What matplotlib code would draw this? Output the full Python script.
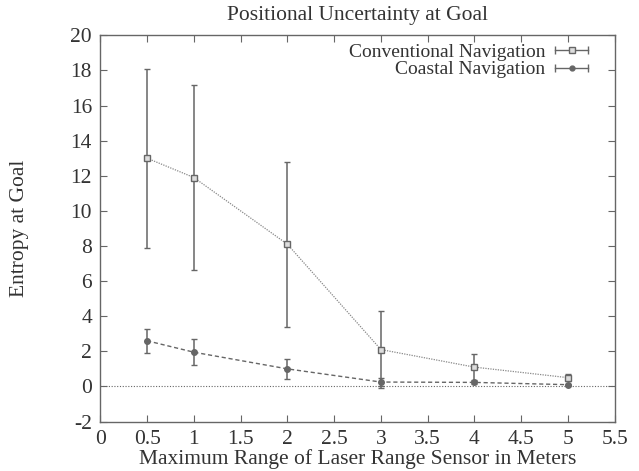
import matplotlib
matplotlib.use("Agg")
import matplotlib.pyplot as plt
from matplotlib.legend_handler import HandlerBase
from matplotlib.lines import Line2D

plt.rcParams["font.family"] = ["Liberation Serif", "DejaVu Serif"]
plt.rcParams["axes.unicode_minus"] = False

x = [0.5, 1, 2, 3, 4, 5]
conventional = [13.0, 11.9, 8.1, 2.1, 1.1, 0.5]
conventional_err = [5.1, 5.25, 4.7, 2.2, 0.75, 0.2]
coastal = [2.6, 1.95, 1.0, 0.25, 0.23, 0.1]
coastal_err = [0.7, 0.75, 0.55, 0.22, 0.1, 0.05]

ink = "#333333"
gray = "#666666"


class KeyHandler(HandlerBase):
    # gnuplot style key: |--marker--|
    def __init__(self, marker, mfc, ms):
        super().__init__()
        self.marker = marker
        self.mfc = mfc
        self.ms = ms

    def create_artists(self, legend, orig_handle, xdescent, ydescent,
                       width, height, fontsize, trans):
        y = height / 2 - ydescent
        x0, x1 = -xdescent, -xdescent + width
        line = Line2D([x0, x1], [y, y], color=gray, lw=1)
        caps = Line2D([x0, x1], [y, y], ls="none", marker="|", ms=6,
                      color=gray, mew=1)
        mk = Line2D([(x0 + x1) / 2], [y], ls="none", marker=self.marker,
                    ms=self.ms, mfc=self.mfc, mec=gray, mew=1)
        for a in (line, caps, mk):
            a.set_transform(trans)
        return [line, caps, mk]


fig = plt.figure(figsize=(6.39, 4.71), dpi=100)
ax = fig.add_axes([0.157, 0.105, 0.805, 0.82])

ax.axhline(0, color=gray, lw=0.8, ls=(0, (1, 1.5)))

ax.errorbar(x, conventional, yerr=conventional_err, color="#888888", lw=0.9,
            ls=(0, (1, 1)), marker="s", ms=5, mfc="#dddddd", mec=gray,
            mew=1, ecolor=gray, elinewidth=1.1, capsize=2.5)
ax.errorbar(x, coastal, yerr=coastal_err, color=gray, lw=1,
            ls=(0, (3, 2)), marker="o", ms=4, mfc=gray, mec=gray,
            ecolor=gray, elinewidth=1.1, capsize=2.5)

h1 = Line2D([], [])
h2 = Line2D([], [])
ax.legend([h1, h2], ["Conventional Navigation", "Coastal Navigation"],
          loc="upper right", bbox_to_anchor=(0.975, 1.015), frameon=False,
          markerfirst=False, handlelength=1.7, handletextpad=0.5,
          labelspacing=0.0, borderaxespad=0.3, fontsize=14, labelcolor=ink,
          handler_map={h1: KeyHandler("s", "#dddddd", 4.5),
                       h2: KeyHandler("o", gray, 3.5)})

ax.set_xlim(0, 5.5)
ax.set_ylim(-2, 20)
ax.set_xticks([0, 0.5, 1, 1.5, 2, 2.5, 3, 3.5, 4, 4.5, 5, 5.5])
ax.set_xticklabels(["0", "0.5", "1", "1.5", "2", "2.5", "3", "3.5",
                    "4", "4.5", "5", "5.5"])
ax.set_yticks(range(-2, 21, 2))
ax.tick_params(direction="in", top=True, right=True, length=5,
               color=gray, labelcolor=ink, labelsize=15.5)
ax.tick_params(axis="x", pad=6)
ax.tick_params(axis="y", pad=6)
for s in ax.spines.values():
    s.set_color(gray)
    s.set_linewidth(1)

ax.set_title("Positional Uncertainty at Goal", color=ink, fontsize=15.5,
             pad=11)
ax.set_xlabel("Maximum Range of Laser Range Sensor in Meters", color=ink,
              fontsize=15.5, labelpad=0)
ax.set_ylabel("Entropy at Goal", color=ink, fontsize=15.5, labelpad=30)

fig.savefig("out.png", dpi=100)
